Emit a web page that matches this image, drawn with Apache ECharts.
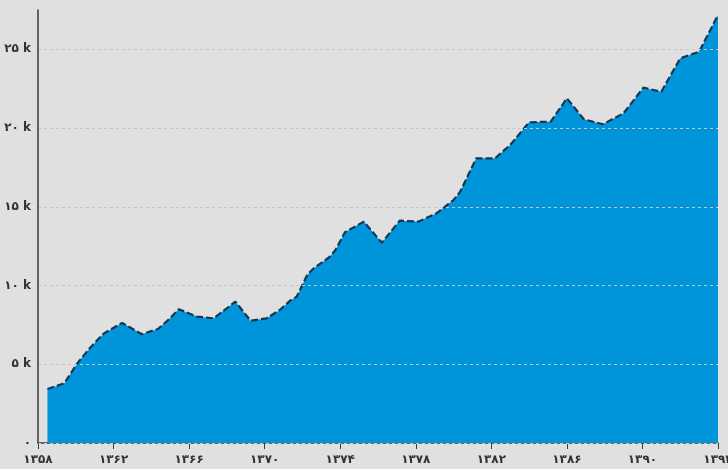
<!DOCTYPE html>
<html>
<head>
<meta charset="utf-8">
<script src="https://cdn.jsdelivr.net/npm/echarts@6/dist/echarts.min.js"></script>
<style>
  html, body { margin: 0; padding: 0; background: #e0e0e0; }
  #chart { width: 728px; height: 469px; }
</style>
</head>
<body>
<div id="chart"></div>
<script>
// سال‌ها (محور افقی) و مقادیر خوانده شده از تصویر
const years = [
  1358.5, 1359.4, 1360.1, 1360.75, 1361.45, 1362.45, 1363.5, 1364.35, 1364.9, 1365.45,
  1366.4, 1367.3, 1368.45, 1369.25, 1370.1, 1370.8, 1371.35, 1371.7, 1372.25, 1372.6,
  1373.45, 1373.75, 1374.25, 1375.25, 1376.2, 1377.15, 1378.15, 1379.1, 1380.0, 1380.35,
  1381.2, 1382.2, 1383.0, 1384.0, 1385.15, 1386.0, 1386.9, 1387.9, 1389.0, 1390.05,
  1391.0, 1392.0, 1393.0, 1394.0
]
const values = [
  3430, 3800, 5090, 6040, 6930, 7630, 6910, 7240, 7820, 8500,
  8030, 7920, 8980, 7770, 7920, 8450, 9040, 9300, 10670, 11100,
  11830, 12260, 13380, 14060, 12720, 14120, 14060, 14590, 15430, 15960,
  18080, 18080, 18930, 20370, 20410, 21890, 20560, 20240, 20940, 22570,
  22310, 24430, 24850, 27180
]
// تیک‌های محورها
const xTicks = [1358, 1362, 1366, 1370, 1374, 1378, 1382, 1386, 1390, 1394]
const yTicks = [0, 5000, 10000, 15000, 20000, 25000]

const faDigits = ['۰', '۱', '۲', '۳', '۴', '۵', '۶', '۷', '۸', '۹']
const toFa = (s) => String(s).replace(/[0-9]/g, (d) => faDigits[+d])

const chart = echarts.init(document.getElementById('chart'))

const option = {
  backgroundColor: '#e0e0e0',
  animation: false,
  grid: {
    top: 10,
    left: 38,
    right: 10,
    bottom: 26,
    outerBoundsMode: 'none'
  },
  xAxis: {
    type: 'value',
    min: xTicks[0],
    max: xTicks[xTicks.length - 1],
    interval: 4,
    axisLine: {
      show: true,
      lineStyle: { color: '#3a3a3a', width: 1.5 }
    },
    axisTick: {
      show: true,
      length: 6,
      lineStyle: { color: '#3a3a3a', width: 1 }
    },
    axisLabel: {
      color: '#333',
      fontSize: 12,
      fontWeight: 'bold',
      fontFamily: 'DejaVu Sans',
      margin: 11,
      formatter: (v) => toFa(v)
    },
    splitLine: { show: false }
  },
  yAxis: {
    type: 'value',
    min: 0,
    max: 27500,
    interval: 5000,
    z: 5,
    axisLine: {
      show: true,
      lineStyle: { color: '#3a3a3a', width: 1.5 }
    },
    axisTick: { show: false },
    axisLabel: {
      color: '#333',
      fontSize: 12,
      fontWeight: 'bold',
      fontFamily: 'DejaVu Sans',
      margin: 7,
      showMaxLabel: false,
      formatter: (v) => (yTicks.includes(v) ? (v === 0 ? toFa(0) : toFa(v / 1000) + ' k') : '')
    },
    splitLine: {
      show: true,
      showMaxLine: false,
      lineStyle: { color: '#c6c6c6', width: 1, type: [3, 3] }
    }
  },
  series: [
    {
      type: 'line',
      data: years.map((y, i) => [y, values[i]]),
      showSymbol: false,
      smooth: false,
      lineStyle: {
        color: '#173750',
        width: 2.2,
        type: [7, 3]
      },
      areaStyle: {
        color: '#0095da',
        opacity: 1
      }
    }
  ]
}

chart.setOption(option)
</script>
</body>
</html>
